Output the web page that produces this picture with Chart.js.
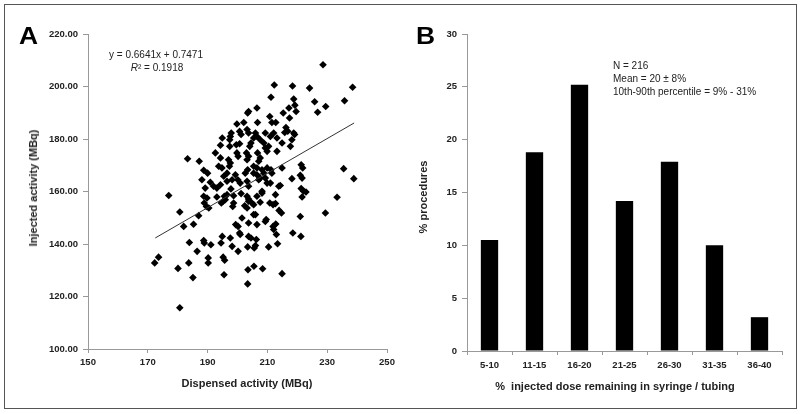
<!DOCTYPE html>
<html>
<head>
<meta charset="utf-8">
<script src="https://cdn.jsdelivr.net/npm/chart.js@4.4.0/dist/chart.umd.min.js"></script>
<style>
  body { margin:0; background:#fff; font-family:"Liberation Sans", Arial, sans-serif; color:#222; }
  #wrap { position:relative; width:800px; height:414px; }
  #frame { position:absolute; left:4px; top:4px; width:793px; height:405px; box-sizing:border-box; border:1px solid #555; }
  canvas { position:absolute; top:0; }
  .txt { position:absolute; white-space:nowrap; }
  .letter { font-weight:900; font-size:24px; color:#000; transform:scaleX(1.1); transform-origin:left top; }
  .axt { font-weight:bold; font-size:11px; color:#222; }
  .note { font-size:10px; color:#222; }
</style>
</head>
<body>
<div id="wrap">
  <div id="frame"></div>
  <canvas id="chartA" width="400" height="414" style="left:0"></canvas>
  <canvas id="chartB" width="400" height="414" style="left:400px"></canvas>

  <div class="txt letter" style="left:19px;top:22px">A</div>
  <div class="txt letter" style="left:416px;top:22px">B</div>

  <div class="txt note" style="left:156px;top:54px;transform:translate(-50%,-50%)">y = 0.6641x + 0.7471</div>
  <div class="txt note" style="left:157px;top:67px;transform:translate(-50%,-50%)"><i>R</i>² = 0.1918</div>

  <div class="txt axt" style="left:247px;top:383px;transform:translate(-50%,-50%)">Dispensed activity (MBq)</div>
  <div class="txt axt" style="left:33px;top:188px;transform:translate(-50%,-50%) rotate(-90deg)">Injected activity (MBq)</div>

  <div class="txt note" style="left:613px;top:59px;line-height:13px">N = 216<br>Mean = 20 ± 8%<br>10th-90th percentile = 9% - 31%</div>

  <div class="txt axt" style="left:615px;top:386px;transform:translate(-50%,-50%)">%&nbsp; injected dose remaining in syringe / tubing</div>
  <div class="txt axt" style="left:423px;top:197px;transform:translate(-50%,-50%) rotate(-90deg)">% procedures</div>
</div>

<script>
// ===== panel A : dispensed vs injected activity (MBq) =====
const dispensed = [
  228.6,212.3,218.4,224.1,238.5,211.2,218.8,225.8,235.8,229.5,219.2,219.6,226.8,217.2,206.5,203.7,203.4,210.8,215.3,212.8,
  211.5,202.1,199.8,206.7,217.4,216.2,216.8,218.8,215.8,219.1,218.2,209.3,212.1,211.0,206.0,206.5,205.4,203.2,203.7,200.7,
  201.2,197.9,197.6,197.4,194.9,200.7,204.5,207.6,208.8,210.4,213.2,214.9,217.7,194.3,197.4,199.6,204.1,209.3,209.9,213.2,
  192.6,199.8,203.0,203.7,206.7,183.3,187.2,194.3,197.0,197.6,200.2,203.2,207.6,207.1,193.7,194.8,197.3,205.4,206.5,209.9,
  211.2,214.9,221.3,221.8,235.5,238.9,188.7,190.0,196.5,199.3,200.1,202.6,203.4,205.4,206.5,207.1,208.8,209.3,208.2,211.5,
  195.4,196.5,198.2,203.2,207.6,211.0,218.2,221.0,221.6,190.9,194.3,200.9,203.7,209.9,192.0,193.1,188.1,189.2,197.8,208.2,
  213.8,214.3,221.3,222.1,222.9,177.0,188.7,189.8,193.1,195.6,196.5,195.9,198.7,201.2,203.2,203.7,206.5,208.2,212.7,221.6,
  233.3,195.2,194.6,188.9,189.6,190.4,198.7,203.7,204.8,207.6,210.8,211.9,212.7,198.4,202.4,203.2,205.4,213.9,214.7,229.4,
  180.7,187.0,201.5,205.4,206.0,209.3,209.6,221.0,182.0,185.3,199.4,200.2,203.7,206.5,211.9,212.8,194.9,197.6,200.9,200.7,
  203.7,204.5,206.3,212.1,213.0,218.5,221.2,183.9,188.7,188.9,191.1,194.5,198.2,203.4,206.0,205.6,210.4,213.4,200.2,186.5,
  195.2,195.7,190.2,190.2,173.6,172.3,183.7,180.1,203.5,205.5,208.4,195.5,214.9,185.1,203.4,180.7
];
const injected = [
  208.3,200.6,200.2,199.4,199.7,195.9,195.2,194.2,194.6,192.4,192.9,190.5,190.2,191.8,191.8,190.5,189.9,188.6,189.9,186.3,
  186.3,186.3,185.7,186.3,188.0,184.4,183.0,182.3,182.5,181.7,179.7,182.3,182.3,181.0,182.3,181.0,180.4,183.6,182.3,182.9,
  181.7,182.3,181.0,179.7,180.4,178.2,178.5,179.7,178.5,177.2,180.4,178.5,177.2,177.6,177.2,177.8,177.2,176.6,175.3,175.3,
  174.7,174.7,174.7,173.4,174.7,172.5,171.5,172.8,172.1,170.9,173.4,172.1,172.8,171.5,169.6,169.0,169.6,169.6,169.0,169.0,
  168.3,169.0,170.2,169.0,168.7,164.9,168.1,167.0,167.0,166.4,164.5,167.0,168.3,167.0,166.4,164.5,167.0,165.1,168.3,167.0,
  165.8,163.9,164.5,163.9,165.1,163.2,164.9,166.2,165.1,163.5,162.6,163.2,162.0,163.2,162.0,161.3,164.5,161.3,161.0,160.1,
  162.0,162.3,161.1,160.1,159.8,158.5,158.2,157.5,157.9,158.2,158.8,156.9,158.4,159.2,158.2,157.1,158.2,159.4,158.8,157.9,
  157.8,156.3,155.6,155.6,154.3,153.7,155.6,156.3,155.6,155.9,155.6,155.0,155.4,154.3,154.6,153.7,155.0,152.8,151.8,151.8,
  152.2,150.8,149.9,151.2,151.2,148.6,149.3,150.5,146.7,147.5,147.4,146.7,148.0,147.4,146.7,147.6,142.9,142.3,143.6,144.2,
  142.9,142.3,141.7,145.5,143.6,144.2,142.9,140.6,141.3,140.4,139.7,140.4,139.1,138.9,139.4,138.5,138.9,140.1,137.2,137.2,
  135.0,133.8,134.7,132.8,135.0,132.8,132.8,130.7,130.2,131.5,130.6,128.3,128.7,127.2,124.8,115.7
];
// trendline end points as drawn
const trendX = [172.5, 239.0];
const trendY = [142.3, 186.1];

// ===== panel B : % injected dose remaining =====
const doseBins = ['5-10','11-15','16-20','21-25','26-30','31-35','36-40'];
const procPct = [10.5, 18.8, 25.2, 14.2, 17.9, 10.0, 3.2];

const tickFont = { family:'"Liberation Sans", Arial, sans-serif', size:9.5, weight:'bold' };
const axisGray = '#999';

// fixed sizes for axes so the plot areas line up with the picture
function fixWidth(w){ return s => { s.width = w; }; }
function fixHeight(h){ return s => { s.height = h; }; }

new Chart(document.getElementById('chartA'), {
  type: 'scatter',
  data: {
    datasets: [
      {
        data: trendX.map((x,i) => ({x:x, y:trendY[i]})),
        showLine: true,
        borderColor: '#333',
        borderWidth: 1,
        pointRadius: 0,
        order: 0
      },
      {
        data: dispensed.map((x,i) => ({x:x, y:injected[i]})),
        pointStyle: 'rectRot',
        pointRadius: 3.8,
        backgroundColor: '#000',
        borderColor: '#000',
        borderWidth: 0,
        order: 1
      }
    ]
  },
  options: {
    responsive: false,
    animation: false,
    layout: { padding: { left:0, right:13, top:34, bottom:0 } },
    plugins: { legend:{display:false}, tooltip:{enabled:false} },
    scales: {
      x: {
        min:150, max:250,
        ticks: { stepSize:20, color:'#222', font:tickFont, padding:4 },
        grid: { drawOnChartArea:false, tickLength:4, color:axisGray },
        border: { color:axisGray },
        afterFit: fixHeight(65)
      },
      y: {
        min:100, max:220,
        ticks: { stepSize:20, color:'#222', font:tickFont, padding:5, callback: v => v.toFixed(2) },
        grid: { drawOnChartArea:false, tickLength:5, color:axisGray },
        border: { color:axisGray },
        afterFit: fixWidth(88)
      }
    }
  }
});

new Chart(document.getElementById('chartB'), {
  type: 'bar',
  data: {
    labels: doseBins,
    datasets: [{
      data: procPct,
      backgroundColor: '#000',
      barPercentage: 0.385,
      categoryPercentage: 1
    }]
  },
  options: {
    responsive: false,
    animation: false,
    layout: { padding: { left:0, right:18, top:34, bottom:0 } },
    plugins: { legend:{display:false}, tooltip:{enabled:false} },
    scales: {
      x: {
        ticks: { color:'#222', font:tickFont, padding:5 },
        grid: { drawOnChartArea:false, tickLength:4, color:axisGray },
        border: { color:axisGray },
        afterFit: fixHeight(63)
      },
      y: {
        min:0, max:30,
        ticks: { stepSize:5, color:'#222', font:tickFont, padding:5 },
        grid: { drawOnChartArea:false, tickLength:5, color:axisGray },
        border: { color:axisGray },
        afterFit: fixWidth(67)
      }
    }
  }
});
</script>
</body>
</html>
